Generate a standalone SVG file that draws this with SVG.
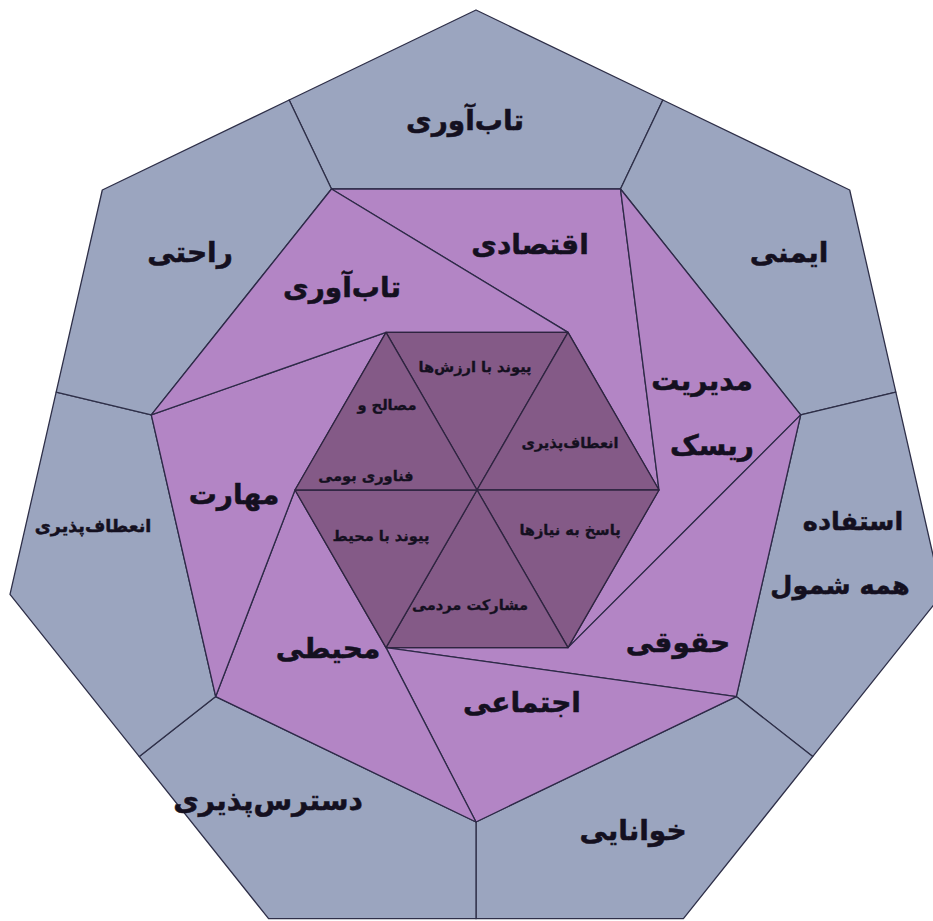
<svg xmlns="http://www.w3.org/2000/svg" width="933" height="921" viewBox="0 0 933 921">
<style>
.outer{fill:#9ba5bf;stroke:#2e2f48;stroke-width:1.3;stroke-linejoin:round}
.mid{fill:#b385c5;stroke:#2e2a48;stroke-width:1.3;stroke-linejoin:round}
.hex{fill:#845a87;stroke:#2e2440;stroke-width:1.3;stroke-linejoin:round}
text{font-family:"DejaVu Sans",sans-serif;font-weight:bold;fill:#141020;stroke:#141020;stroke-width:0.5;text-anchor:middle}
.t1{font-size:28px}
.t1s{font-size:25.5px}
.t2{font-size:17.5px}
.t3{font-size:14.6px;stroke-width:0.3}
</style>
<rect width="933" height="921" fill="#ffffff"/>
<g id="outer-ring">
<g id="n-tabavari-out"><polygon class="outer" points="289.15,100 476,10 662.85,100 620.5,189 331.5,189"/><text class="t1" x="465" y="130">تاب‌آوری</text></g>
<g id="n-imeni"><polygon class="outer" points="662.85,100 849.7,190 895.85,392.2 800.7,414.9 620.5,189"/><text class="t1" x="789" y="262">ایمنی</text></g>
<g id="n-estefade"><polygon class="outer" points="895.85,392.2 942,594.4 812.7,756.55 736.3,696.6 800.7,414.9"/><text class="t1s" x="853" y="530">استفاده</text><text class="t1s" x="840" y="594">همه شمول</text></g>
<g id="n-khanayi"><polygon class="outer" points="812.7,756.55 683.4,918.7 476,918.7 476,822 736.3,696.6"/><text class="t1" x="633" y="840">خوانایی</text></g>
<g id="n-dastres"><polygon class="outer" points="476,918.7 268.6,918.7 139.3,756.55 215.7,696.6 476,822"/><text class="t1" x="268" y="810">دسترس‌پذیری</text></g>
<g id="n-enetaf-out"><polygon class="outer" points="139.3,756.55 10,594.4 56.15,392.2 151.3,414.9 215.7,696.6"/><text class="t2" x="93" y="532">انعطاف‌پذیری</text></g>
<g id="n-rahati"><polygon class="outer" points="56.15,392.2 102.3,190 289.15,100 331.5,189 151.3,414.9"/><text class="t1" x="190" y="262">راحتی</text></g>
</g>
<g id="middle-ring">
<g id="n-eghtesadi"><polygon class="mid" points="331.5,189 620.5,189 659,490 568,332.4"/><text class="t1" x="530" y="254">اقتصادی</text></g>
<g id="n-modiriat"><polygon class="mid" points="620.5,189 800.7,414.9 568,647.6 659,490"/><text class="t1" x="702" y="390">مدیریت</text><text class="t1" x="712" y="455">ریسک</text></g>
<g id="n-hoghoghi"><polygon class="mid" points="800.7,414.9 736.3,696.6 386,647.6 568,647.6"/><text class="t1" x="678" y="652">حقوقی</text></g>
<g id="n-ejtemai"><polygon class="mid" points="736.3,696.6 476,822 386,647.6"/><text class="t1" x="522" y="712">اجتماعی</text></g>
<g id="n-mohiti"><polygon class="mid" points="476,822 215.7,696.6 295,490 386,647.6"/><text class="t1" x="328" y="658">محیطی</text></g>
<g id="n-maharat"><polygon class="mid" points="215.7,696.6 151.3,414.9 386,332.4 295,490"/><text class="t1" x="234" y="504">مهارت</text></g>
<g id="n-tabavari-mid"><polygon class="mid" points="151.3,414.9 331.5,189 568,332.4 386,332.4"/><text class="t1" x="342" y="297">تاب‌آوری</text></g>
</g>
<g id="hexagon">
<g id="n-peyvand-arzesh"><polygon class="hex" points="386,332.4 568,332.4 477,490"/><text class="t3" x="475" y="372">پیوند با ارزش‌ها</text></g>
<g id="n-enetaf-hex"><polygon class="hex" points="568,332.4 659,490 477,490"/><text class="t3" x="570" y="448">انعطاف‌پذیری</text></g>
<g id="n-pasokh"><polygon class="hex" points="659,490 568,647.6 477,490"/><text class="t3" x="570" y="535">پاسخ به نیازها</text></g>
<g id="n-mosharekat"><polygon class="hex" points="568,647.6 386,647.6 477,490"/><text class="t3" x="470" y="610">مشارکت مردمی</text></g>
<g id="n-peyvand-mohit"><polygon class="hex" points="386,647.6 295,490 477,490"/><text class="t3" x="381" y="541">پیوند با محیط</text></g>
<g id="n-masaleh"><polygon class="hex" points="295,490 386,332.4 477,490"/><text class="t3" x="387" y="410">مصالح و</text><text class="t3" x="366" y="481">فناوری بومی</text></g>
</g>
<g id="connectors"></g>
</svg>
